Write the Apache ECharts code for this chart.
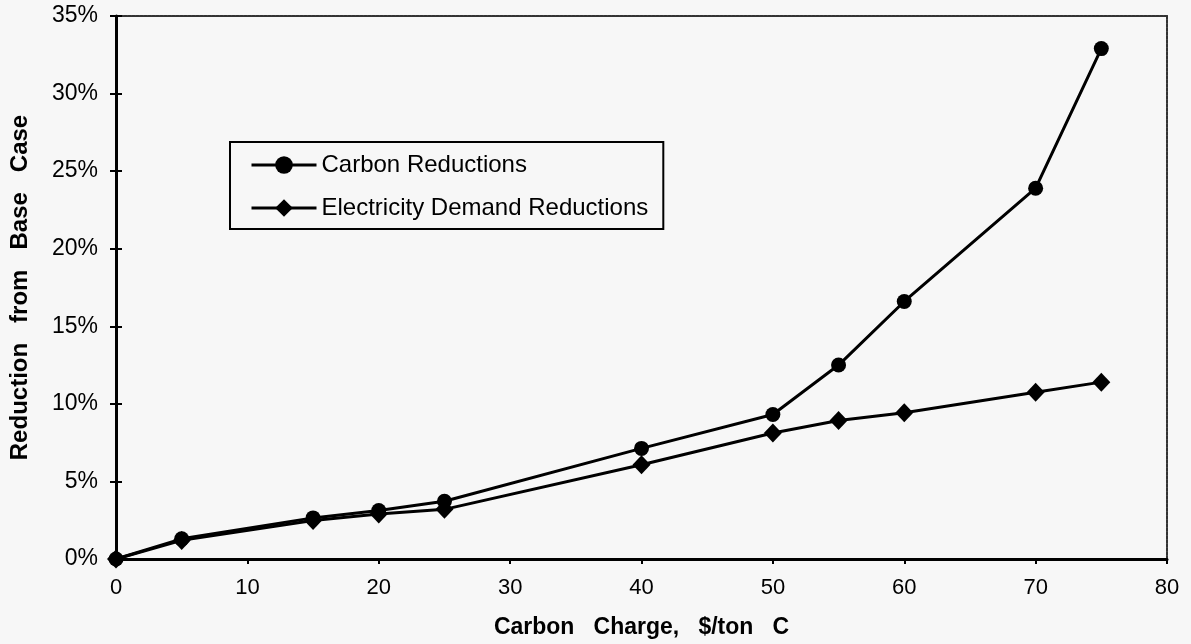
<!DOCTYPE html>
<html>
<head>
<meta charset="utf-8">
<script src="https://cdn.jsdelivr.net/npm/echarts@6/dist/echarts.min.js"></script>
<style>
html,body{margin:0;padding:0;background:#f7f7f7;}
#chart{width:1191px;height:644px;}
</style>
</head>
<body>
<div id="chart"></div>
<script>
const charges = [0, 5, 15, 20, 25, 40, 50, 55, 60, 70, 75];
const carbonReductions = [0, 1.3, 2.65, 3.12, 3.72, 7.13, 9.31, 12.5, 16.6, 23.9, 32.9];
const electricityReductions = [0, 1.2, 2.48, 2.9, 3.2, 6.07, 8.12, 8.93, 9.42, 10.75, 11.4];
const seriesNames = ['Carbon Reductions', 'Electricity Demand Reductions'];
const xTitle = 'Carbon   Charge,   $/ton   C';
const yTitle = 'Reduction   from   Base   Case';

const FONT = '"Liberation Sans", Arial, Helvetica, sans-serif';
const chart = echarts.init(document.getElementById('chart'), null, {renderer: 'canvas'});

function pairs(xs, ys) { return xs.map((x, i) => [x, ys[i]]); }

const xBase = {type: 'value', min: 0, max: 80, interval: 10, splitLine: {show: false}};
const yBase = {type: 'value', min: 0, max: 35, interval: 5, splitLine: {show: false}};

chart.setOption({
  backgroundColor: '#f7f7f7',
  animation: false,
  grid: {left: 113, right: 24, top: 16, bottom: 79, show: false},
  legend: {
    orient: 'vertical',
    left: 230, top: 142,
    padding: [11, 15, 9, 20],
    borderColor: '#000', borderWidth: 2,
    backgroundColor: '#f7f7f7',
    itemWidth: 65, itemHeight: 22, itemGap: 19,
    lineStyle: {width: 3, color: '#000'},
    textStyle: {fontFamily: FONT, fontSize: 24, color: '#000', lineHeight: 22},
    data: seriesNames
  },
  xAxis: [
    Object.assign({}, xBase, {
      position: 'bottom',
      name: xTitle, nameLocation: 'middle', nameGap: 57,
      nameTextStyle: {fontFamily: FONT, fontSize: 23, fontWeight: 'bold', color: '#000'},
      axisLine: {show: true, onZero: false, lineStyle: {color: '#000', width: 3}},
      axisTick: {show: true, inside: false, length: 5, lineStyle: {color: '#000', width: 2}},
      axisLabel: {fontFamily: FONT, fontSize: 22, color: '#000', margin: 18}
    }),
    Object.assign({}, xBase, {
      position: 'top',
      axisLine: {show: true, onZero: false, lineStyle: {color: '#333', width: 2, type: [3, 1]}},
      axisTick: {show: false},
      axisLabel: {show: false}
    })
  ],
  yAxis: [
    Object.assign({}, yBase, {
      position: 'left',
      name: yTitle, nameLocation: 'middle', nameGap: 84, nameRotate: 90,
      nameTextStyle: {fontFamily: FONT, fontSize: 24, fontWeight: 'bold', color: '#000'},
      axisLine: {show: true, onZero: false, lineStyle: {color: '#000', width: 3}},
      axisTick: {show: true, inside: false, length: 6, lineStyle: {color: '#000', width: 2}},
      axisLabel: {fontFamily: FONT, fontSize: 23, color: '#000', margin: 18, formatter: '{value}%'}
    }),
    Object.assign({}, yBase, {
      position: 'right',
      axisLine: {show: true, onZero: false, lineStyle: {color: '#333', width: 2, type: [3, 1]}},
      axisTick: {show: false},
      axisLabel: {show: false}
    }),
    Object.assign({}, yBase, {
      position: 'left', offset: 0,
      axisLine: {show: false, onZero: false},
      axisTick: {show: true, inside: true, length: 6, lineStyle: {color: '#000', width: 2}},
      axisLabel: {show: false}
    })
  ],
  series: [
    {
      name: seriesNames[0], type: 'line', xAxisIndex: 0, yAxisIndex: 0,
      data: pairs(charges, carbonReductions),
      symbol: 'circle', symbolSize: 15,
      lineStyle: {color: '#000', width: 3},
      itemStyle: {color: '#000'},
      z: 3
    },
    {
      name: seriesNames[1], type: 'line', xAxisIndex: 0, yAxisIndex: 0,
      data: pairs(charges, electricityReductions),
      symbol: 'diamond', symbolSize: [18, 19],
      lineStyle: {color: '#000', width: 3},
      itemStyle: {color: '#000'},
      z: 4
    }
  ]
});
</script>
</body>
</html>
